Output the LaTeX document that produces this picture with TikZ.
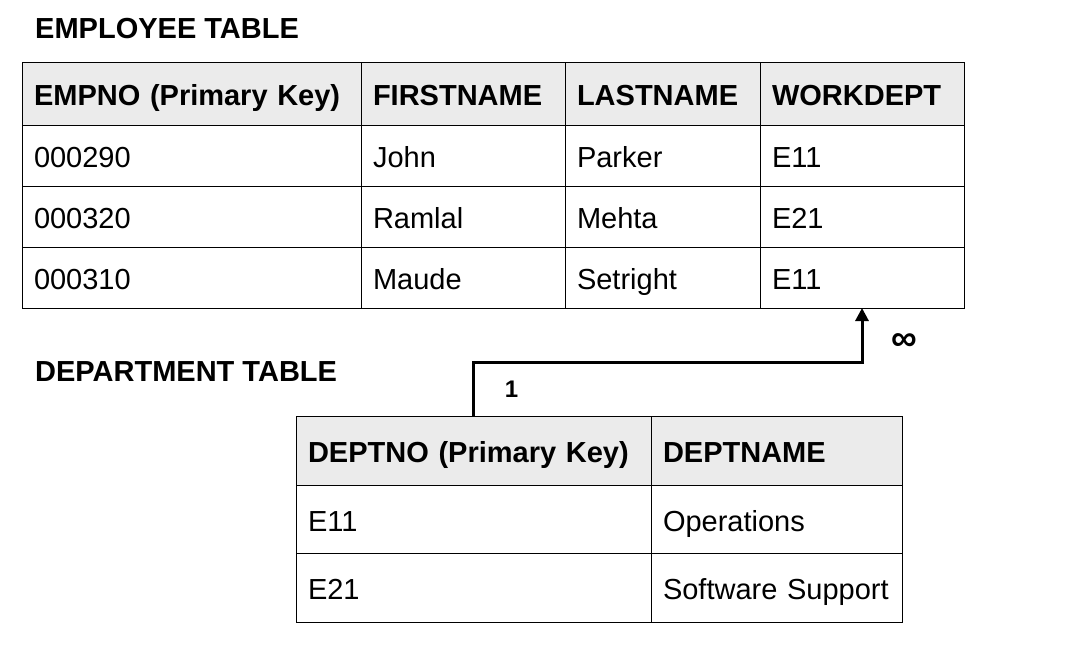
\documentclass[tikz,border=0pt]{standalone}
\usepackage{fontspec}
\setmainfont{Liberation Sans}
\usetikzlibrary{arrows.meta,positioning}
\definecolor{headgray}{HTML}{EBEBEB}
\tikzset{Tables/.style = {% styles for the two tables
     base/.style = {rectangle, draw, line width=1pt, outer sep=0pt,
                    inner xsep=12pt, inner ysep=0pt, align=left,
                    text height=27pt, text depth=3pt,
                    font=\fontsize{29}{33}\selectfont},
      col/.style = {minimum width=##1, text width=##1-24pt},
     head/.style = {base, fill=headgray, font=\fontsize{29}{33}\selectfont\bfseries},
     cell/.style = {base},
    title/.style = {anchor=west, inner sep=0pt, font=\fontsize{29}{33}\selectfont\bfseries},
    arrow/.style = {line width=3pt, -{Triangle[width=13pt,length=13pt]}}}
        }

\begin{document}
\begin{tikzpicture}[Tables, x=1pt, y=-1pt]
\useasboundingbox (0,0) rectangle (1091,650);

% titles
\node (etitle) [title] at (35,29)  {EMPLOYEE TABLE};
\node (dtitle) [title] at (35,372) {DEPARTMENT TABLE};

% employee table
\node (eh1) [head, col=339pt, minimum height=62pt, anchor=north west] at (22,63) {EMPNO (Primary Key)};
\node (eh2) [head, col=204pt, minimum height=62pt, right=0pt of eh1] {FIRSTNAME};
\node (eh3) [head, col=195pt, minimum height=62pt, right=0pt of eh2] {LASTNAME};
\node (eh4) [head, col=204pt, minimum height=62pt, right=0pt of eh3] {WORKDEPT};

\node (e11) [cell, col=339pt, minimum height=61pt, below=0pt of eh1] {000290};
\node (e12) [cell, col=204pt, minimum height=61pt, below=0pt of eh2] {John};
\node (e13) [cell, col=195pt, minimum height=61pt, below=0pt of eh3] {Parker};
\node (e14) [cell, col=204pt, minimum height=61pt, below=0pt of eh4] {E11};

\node (e21) [cell, col=339pt, minimum height=61pt, below=0pt of e11] {000320};
\node (e22) [cell, col=204pt, minimum height=61pt, below=0pt of e12] {Ramlal};
\node (e23) [cell, col=195pt, minimum height=61pt, below=0pt of e13] {Mehta};
\node (e24) [cell, col=204pt, minimum height=61pt, below=0pt of e14] {E21};

\node (e31) [cell, col=339pt, minimum height=61pt, below=0pt of e21] {000310};
\node (e32) [cell, col=204pt, minimum height=61pt, below=0pt of e22] {Maude};
\node (e33) [cell, col=195pt, minimum height=61pt, below=0pt of e23] {Setright};
\node (e34) [cell, col=204pt, minimum height=61pt, below=0pt of e24] {E11};

% department table
\node (dh1) [head, col=355pt, minimum height=69pt, anchor=north west] at (296,416) {DEPTNO (Primary Key)};
\node (dh2) [head, col=251pt, minimum height=69pt, right=0pt of dh1] {DEPTNAME};

\node (d11) [cell, col=355pt, minimum height=68pt, below=0pt of dh1] {E11};
\node (d12) [cell, col=251pt, minimum height=68pt, below=0pt of dh2] {Operations};

\node (d21) [cell, col=355pt, minimum height=69pt, below=0pt of d11] {E21};
\node (d22) [cell, col=251pt, minimum height=69pt, below=0pt of d12] {Software Support};

% relation
\draw [arrow] (dh1.north) -- node[xshift=38pt, font=\fontsize{24}{28}\selectfont\bfseries] (one) {1}
      ++(0,-54) -| (e34.south);
\node (many) [font=\fontsize{36}{40}\selectfont\bfseries] at ([xshift=42pt,yshift=-34pt]e34.south) {∞};

\end{tikzpicture}
\end{document}
